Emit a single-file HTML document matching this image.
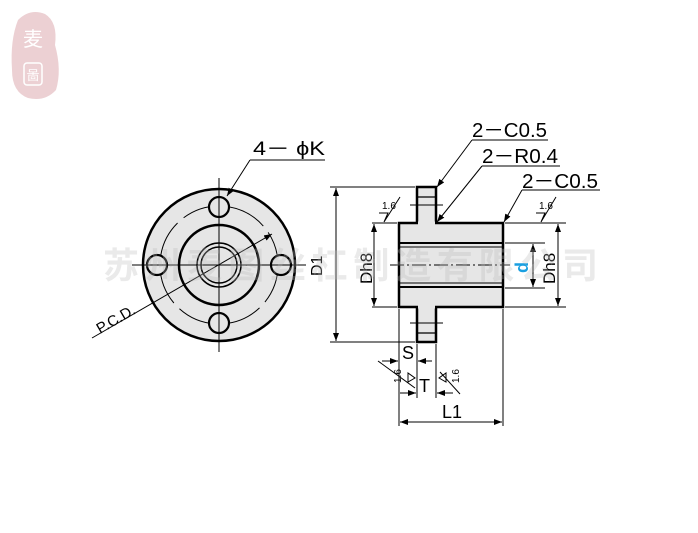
<!DOCTYPE html>
<html><head><meta charset="utf-8"><style>
body{margin:0;background:#fff}
svg{display:block}
text{font-family:"Liberation Sans","Noto Sans CJK SC",sans-serif}
</style></head><body>
<svg width="698" height="533" viewBox="0 0 698 533" xmlns="http://www.w3.org/2000/svg">
<defs>
<marker id="a" markerWidth="8" markerHeight="6" refX="8" refY="3" orient="auto" markerUnits="userSpaceOnUse"><path d="M0,0 L8,3 L0,6z" fill="#000"/></marker>
</defs>
<!-- logo -->
<path d="M18,20 Q30,8 45,14 Q58,22 55,45 Q62,70 56,90 Q45,102 28,98 Q12,92 12,70 Q10,40 18,20z" fill="#ecd0d3"/>
<text x="33" y="46" font-size="20" fill="#fff" text-anchor="middle">麦</text>
<rect x="24" y="63" width="18" height="22" rx="3" fill="none" stroke="#fff" stroke-width="1.5"/>
<text x="33" y="80" font-size="13" fill="#fff" text-anchor="middle">啚</text>

<!-- front view -->
<g stroke="#000" fill="none">
<circle cx="219" cy="265" r="76" fill="#e6e6e6" stroke-width="2.5"/>
<circle cx="219" cy="265" r="40" stroke-width="2.5"/>
<circle cx="219" cy="265" r="22" stroke-width="1.5"/>
<circle cx="219" cy="265" r="18" stroke-width="1.5"/>
<circle cx="219" cy="265" r="59" stroke-width="1" stroke-dasharray="40,8"/>
<circle cx="219" cy="207" r="10" fill="#e6e6e6" stroke-width="2.2"/>
<circle cx="219" cy="323" r="10" fill="#e6e6e6" stroke-width="2.2"/>
<circle cx="157" cy="265" r="10" fill="#e6e6e6" stroke-width="2.2"/>
<circle cx="281" cy="265" r="10" fill="#e6e6e6" stroke-width="2.2"/>
<line x1="219" y1="178" x2="219" y2="352" stroke-width="1"/>
<line x1="132" y1="265" x2="306" y2="265" stroke-width="1"/>
<line x1="92" y1="338" x2="272" y2="234" stroke-width="1" marker-end="url(#a)"/>
<line x1="250" y1="160" x2="325" y2="160" stroke-width="1"/>
<line x1="250" y1="160" x2="227" y2="196" stroke-width="1" marker-end="url(#a)"/>
</g>
<text x="253" y="155" font-size="19" textLength="72" lengthAdjust="spacingAndGlyphs">4－ ϕK</text>
<text x="0" y="0" font-size="15" transform="translate(100,334) rotate(-30)">P.C.D.</text>
<text x="0" y="0" font-size="16" transform="translate(322,276) rotate(-90)">D1</text>

<!-- side view -->
<g stroke="#000" fill="none">
<rect x="417" y="187" width="19" height="155" fill="#e6e6e6" stroke-width="2.5"/>
<rect x="399" y="223" width="104" height="84" fill="#e6e6e6" stroke-width="2.5"/>
<line x1="418" y1="223" x2="435" y2="223" stroke="#e6e6e6" stroke-width="3"/>
<line x1="418" y1="307" x2="435" y2="307" stroke="#e6e6e6" stroke-width="3"/>
<line x1="399" y1="243" x2="503" y2="243" stroke-width="2"/>
<line x1="399" y1="247" x2="503" y2="247" stroke-width="1"/>
<line x1="399" y1="283" x2="503" y2="283" stroke-width="1"/>
<line x1="399" y1="287" x2="503" y2="287" stroke-width="2"/>
<line x1="417" y1="197" x2="436" y2="197" stroke-width="1.2"/>
<line x1="417" y1="333" x2="436" y2="333" stroke-width="1.2"/>
<line x1="410" y1="205" x2="443" y2="205" stroke-width="1"/>
<line x1="410" y1="323" x2="443" y2="323" stroke-width="1"/>
<line x1="390" y1="265" x2="510" y2="265" stroke-width="1" stroke-dasharray="14,3,2,3"/>
<line x1="330" y1="187" x2="415" y2="187" stroke-width="1"/>
<line x1="330" y1="342" x2="415" y2="342" stroke-width="1"/>
<line x1="336" y1="265" x2="336" y2="188" stroke-width="1" marker-end="url(#a)"/>
<line x1="336" y1="265" x2="336" y2="341" stroke-width="1" marker-end="url(#a)"/>
<line x1="372" y1="223" x2="397" y2="223" stroke-width="1"/>
<line x1="372" y1="307" x2="397" y2="307" stroke-width="1"/>
<line x1="374" y1="265" x2="374" y2="224" stroke-width="1" marker-end="url(#a)"/>
<line x1="374" y1="265" x2="374" y2="306" stroke-width="1" marker-end="url(#a)"/>
<line x1="505" y1="243" x2="545" y2="243" stroke-width="1"/>
<line x1="505" y1="288" x2="545" y2="288" stroke-width="1"/>
<line x1="533" y1="265" x2="533" y2="244" stroke-width="1" marker-end="url(#a)"/>
<line x1="533" y1="265" x2="533" y2="287" stroke-width="1" marker-end="url(#a)"/>
<line x1="505" y1="223" x2="566" y2="223" stroke-width="1"/>
<line x1="505" y1="307" x2="566" y2="307" stroke-width="1"/>
<line x1="558" y1="265" x2="558" y2="224" stroke-width="1" marker-end="url(#a)"/>
<line x1="558" y1="265" x2="558" y2="306" stroke-width="1" marker-end="url(#a)"/>
<line x1="399" y1="309" x2="399" y2="426" stroke-width="1"/>
<line x1="503" y1="309" x2="503" y2="426" stroke-width="1"/>
<line x1="417" y1="344" x2="417" y2="398" stroke-width="1"/>
<line x1="436" y1="344" x2="436" y2="398" stroke-width="1"/>
<line x1="382" y1="361" x2="398" y2="361" stroke-width="1" marker-end="url(#a)"/>
<line x1="432" y1="361" x2="418" y2="361" stroke-width="1" marker-end="url(#a)"/>
<line x1="400" y1="393" x2="416" y2="393" stroke-width="1" marker-end="url(#a)"/>
<line x1="453" y1="393" x2="437" y2="393" stroke-width="1" marker-end="url(#a)"/>
<line x1="451" y1="422" x2="400" y2="422" stroke-width="1" marker-end="url(#a)"/>
<line x1="451" y1="422" x2="502" y2="422" stroke-width="1" marker-end="url(#a)"/>
<path d="M379,213 L388,213 L384,222 L400,197" stroke-width="1"/>
<path d="M536,213 L545,213 L541,222 L556,197" stroke-width="1"/>
<path d="M408,373 L408,382 L415,378z M378,361 L415,388" stroke-width="1"/>
<path d="M446,373 L446,382 L439,378z M440,372 L460,394" stroke-width="1"/>
<line x1="472" y1="140" x2="548" y2="140" stroke-width="1"/>
<line x1="472" y1="140" x2="437" y2="187" stroke-width="1" marker-end="url(#a)"/>
<line x1="482" y1="166" x2="560" y2="166" stroke-width="1"/>
<line x1="482" y1="166" x2="437" y2="222" stroke-width="1" marker-end="url(#a)"/>
<line x1="522" y1="190" x2="600" y2="190" stroke-width="1"/>
<line x1="522" y1="190" x2="504" y2="222" stroke-width="1" marker-end="url(#a)"/>
</g>
<text x="472" y="137" font-size="20" textLength="75" lengthAdjust="spacingAndGlyphs">2－C0.5</text>
<text x="482" y="163" font-size="20" textLength="76" lengthAdjust="spacingAndGlyphs">2－R0.4</text>
<text x="522" y="188" font-size="20" textLength="76" lengthAdjust="spacingAndGlyphs">2－C0.5</text>
<text x="382" y="209" font-size="10">1.6</text>
<text x="539" y="209" font-size="10">1.6</text>
<text x="0" y="0" font-size="10" transform="translate(401,383) rotate(-90)">1.6</text>
<text x="0" y="0" font-size="10" transform="translate(459,383) rotate(-90)">1.6</text>
<text x="0" y="0" font-size="17" transform="translate(372,284) rotate(-90)">Dh8</text>
<text x="0" y="0" font-size="17" transform="translate(555,284) rotate(-90)">Dh8</text>
<text x="0" y="0" font-size="18" font-weight="bold" fill="#1a9fe0" transform="translate(528,273) rotate(-90)">d</text>
<text x="402" y="359" font-size="18">S</text>
<text x="419" y="392" font-size="18">T</text>
<text x="442" y="418" font-size="18">L1</text>
<text x="103" y="278" font-size="36" font-weight="bold" fill="rgba(185,185,185,0.3)" textLength="495" lengthAdjust="spacing">苏州麦图丝杠制造有限公司</text>
</svg>
</body></html>
